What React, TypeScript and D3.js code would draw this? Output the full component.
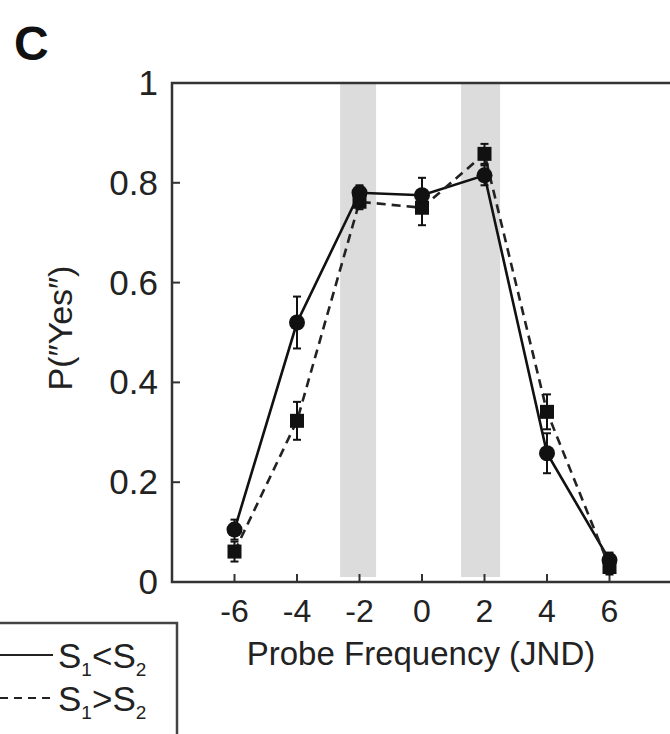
import React from 'react';
import * as d3 from 'd3';

// probe frequency in JND units
const probe = [-6, -4, -2, 0, 2, 4, 6];
// S1<S2 (solid, circles)
const lowerFirst = [0.105, 0.52, 0.78, 0.775, 0.815, 0.258, 0.044];
const lowerFirstErr = [0.02, 0.052, 0.015, 0.035, 0.02, 0.04, 0.015];
// S1>S2 (dashed, squares)
const higherFirst = [0.061, 0.323, 0.762, 0.75, 0.858, 0.341, 0.03];
const higherFirstErr = [0.02, 0.038, 0.015, 0.035, 0.02, 0.035, 0.015];
const yTicks = [0, 0.2, 0.4, 0.6, 0.8, 1];
const bands = [[-2.62, -1.47], [1.25, 2.5]];

const font = '"Liberation Sans", Arial, sans-serif';

export default function App() {
  const x = d3.scaleLinear().domain([-8, 8]).range([172, 672]);
  const y = d3.scaleLinear().domain([0, 1]).range([582, 83]);

  const line = d3.line<number>()
    .x((_, i) => x(probe[i]))
    .y(d => y(d));

  const errBars = (vals: number[], errs: number[], key: string) =>
    vals.map((v, i) => (
      <g key={key + i} stroke="#111" strokeWidth={2}>
        <line x1={x(probe[i])} x2={x(probe[i])} y1={y(v - errs[i])} y2={y(v + errs[i])} />
        <line x1={x(probe[i]) - 4} x2={x(probe[i]) + 4} y1={y(v - errs[i])} y2={y(v - errs[i])} />
        <line x1={x(probe[i]) - 4} x2={x(probe[i]) + 4} y1={y(v + errs[i])} y2={y(v + errs[i])} />
      </g>
    ));

  return (
    <svg width={670} height={734} style={{ position: 'absolute', left: 0, top: 0, background: '#fff' }}
      fontFamily={font}>
      {/* shaded regions */}
      {bands.map((b, i) => (
        <rect key={'b' + i} x={x(b[0])} width={x(b[1]) - x(b[0])} y={y(1)} height={y(0.01) - y(1)} fill="#dcdcdc" />
      ))}

      {/* axes box */}
      <rect x={x(-8)} y={y(1)} width={x(8) - x(-8)} height={y(0) - y(1)} fill="none" stroke="#333" strokeWidth={2.5} />

      {yTicks.map(t => (
        <g key={'y' + t}>
          <line x1={x(-8)} x2={x(-8) + 8} y1={y(t)} y2={y(t)} stroke="#333" strokeWidth={2} />
          <text x={158} y={y(t) + 12} textAnchor="end" fontSize={35} fill="#222">{t === 0 || t === 1 ? t : t.toFixed(1)}</text>
        </g>
      ))}
      {probe.map(t => (
        <g key={'x' + t}>
          <line x1={x(t)} x2={x(t)} y1={y(0)} y2={y(0) - 8} stroke="#333" strokeWidth={2} />
          <text x={x(t)} y={622} textAnchor="middle" fontSize={32} fill="#222">{t}</text>
        </g>
      ))}

      {/* lines */}
      <path d={line(lowerFirst) || ''} fill="none" stroke="#111" strokeWidth={2.6} />
      <path d={line(higherFirst) || ''} fill="none" stroke="#222" strokeWidth={2.6} strokeDasharray="9,6" />

      {errBars(lowerFirst, lowerFirstErr, 'el')}
      {errBars(higherFirst, higherFirstErr, 'eh')}

      {higherFirst.map((v, i) => (
        <rect key={'s' + i} x={x(probe[i]) - 7} y={y(v) - 7} width={14} height={14} fill="#111" />
      ))}
      {lowerFirst.map((v, i) => (
        <circle key={'c' + i} cx={x(probe[i])} cy={y(v)} r={8} fill="#111" />
      ))}

      {/* panel letter */}
      <text x={14} y={60} fontSize={48} fontWeight="bold" fill="#111">C</text>

      {/* axis labels */}
      <text transform="translate(72,328) rotate(-90)" textAnchor="middle" fontSize={34} fill="#222">P(″Yes″)</text>
      <text x={421} y={665} textAnchor="middle" fontSize={33} fill="#222">Probe Frequency (JND)</text>

      {/* legend */}
      <rect x={-5} y={623} width={182} height={120} fill="#fff" stroke="#444" strokeWidth={2.5} />
      <line x1={0} x2={53} y1={655} y2={655} stroke="#222" strokeWidth={2.2} />
      <line x1={0} x2={53} y1={698} y2={698} stroke="#222" strokeWidth={2.2} strokeDasharray="8,6" />
      <text x={58} y={668} fontSize={35} fill="#222">
        S<tspan fontSize={19} dy={8}>1</tspan><tspan dy={-8}>&lt;S</tspan><tspan fontSize={19} dy={8}>2</tspan>
      </text>
      <text x={58} y={711} fontSize={35} fill="#222">
        S<tspan fontSize={19} dy={8}>1</tspan><tspan dy={-8}>&gt;S</tspan><tspan fontSize={19} dy={8}>2</tspan>
      </text>
    </svg>
  );
}
